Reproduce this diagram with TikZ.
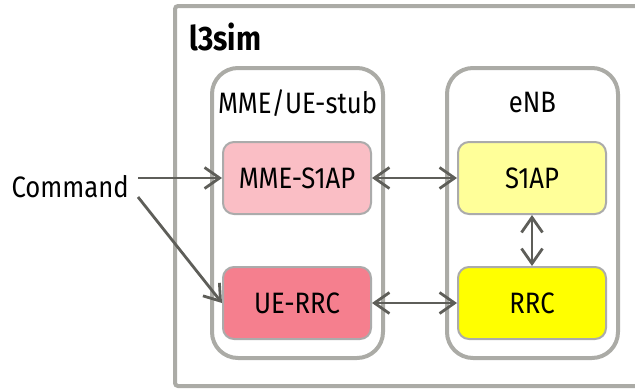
\documentclass[tikz,border=0pt]{standalone}
\usepackage{fontspec}
\setmainfont[FakeStretch=0.87]{Fira Sans}
\usetikzlibrary{arrows.meta}
\definecolor{frame}{HTML}{ABABA6}
\definecolor{arr}{HTML}{5E5E59}
\definecolor{boxline}{HTML}{ABABAB}
\definecolor{pinklight}{HTML}{FABEC5}
\definecolor{pinkdark}{HTML}{F57F8E}
\definecolor{yellowlight}{HTML}{FFFF99}
\definecolor{yellowfull}{HTML}{FFFF00}
\tikzset{
  every node/.style={font=\fontsize{29.5}{32}\selectfont},
  container/.style={draw=frame, line width=4pt, rounded corners=26pt, inner sep=0pt},
  module/.style={draw=boxline, line width=2pt, rounded corners=11pt, minimum width=148pt, minimum height=72pt, inner sep=0pt},
  tipbarb/.style={Straight Barb[length=15pt,width=21pt,line width=2.8pt]},
  conn/.style={draw=arr, line width=2.8pt, {Straight Barb[length=15pt,width=21pt,line width=2.8pt]}-{Straight Barb[length=15pt,width=21pt,line width=2.8pt]}},
  oneway/.style={draw=arr, line width=2.8pt, -{Straight Barb[length=15pt,width=21pt,line width=2.8pt]}},
}
\begin{document}
\begin{tikzpicture}[x=1pt,y=-1pt]
\useasboundingbox (0,0) rectangle (635,389);
\clip (0,0) rectangle (635,389);
\draw[frame, line width=4pt, rounded corners=3pt] (175,6) rectangle (660,386);
\node[anchor=west, font=\fontsize{34}{36}\selectfont\bfseries] (title) at (186,37) {l3sim};
\draw[container] (212,68) rectangle (383,358);
\draw[container] (447,68) rectangle (618,358);
\node (mmelabel) at (297.5,103) {MME/UE-stub};
\node (enblabel) at (532.5,103) {eNB};
\node[module, fill=pinklight] (mme) at (297,178) {MME-S1AP};
\node[module, fill=pinkdark] (uerrc) at (297,303) {UE-RRC};
\node[module, fill=yellowlight] (s1ap) at (532,178) {S1AP};
\node[module, fill=yellowfull] (rrc) at (532,303) {RRC};
\node[anchor=west] (cmd) at (8,187) {Command};
\coordinate (c1) at (138,178);
\coordinate (c2) at (138,197);
\draw[oneway] (c1) -- (mme.west);
\draw[oneway] (c2) -- (uerrc.west);
\draw[conn] (mme.east) -- (s1ap.west);
\draw[conn] (uerrc.east) -- (rrc.west);
\draw[conn] (s1ap.south) -- (rrc.north);
\end{tikzpicture}
\end{document}
